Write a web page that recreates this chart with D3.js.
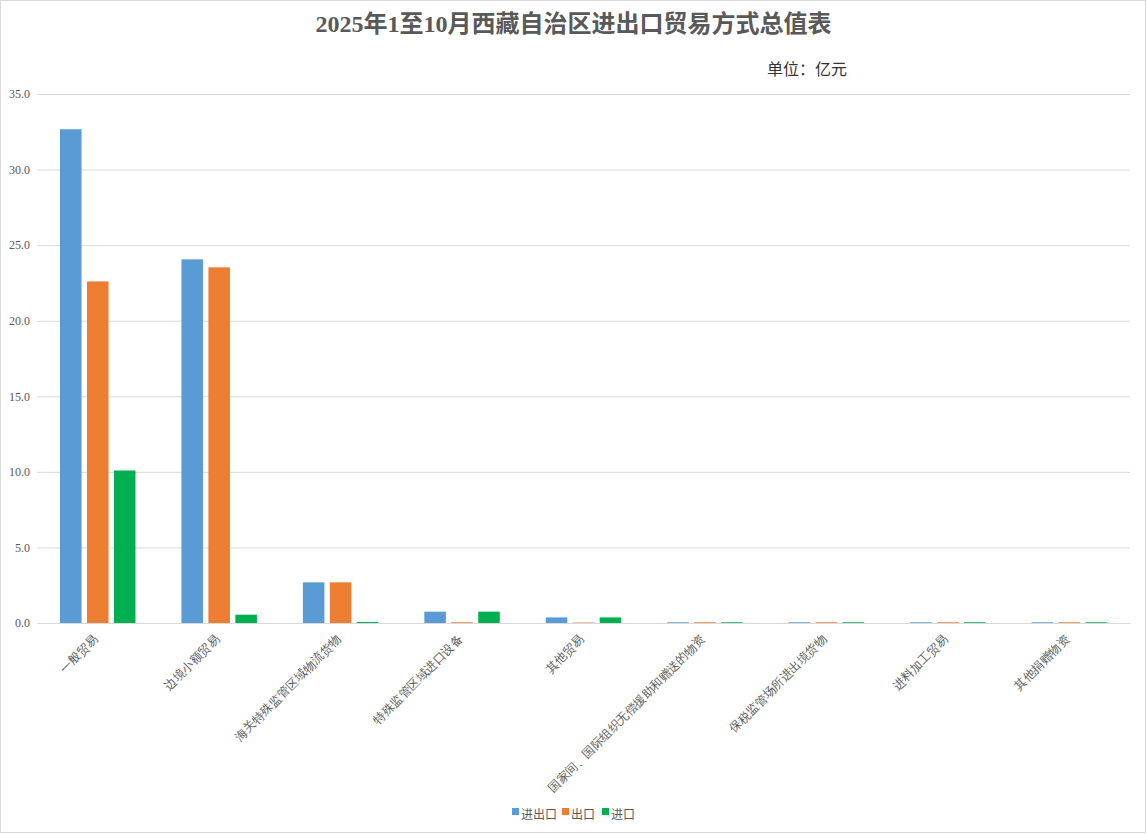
<!DOCTYPE html>
<html lang="zh">

<head>
    <meta charset="UTF-8">
    <script src="https://cdn.jsdelivr.net/npm/d3@7"></script>
    <title>2025年1至10月西藏自治区进出口贸易方式总值表</title>
    <style>
        body {
            margin: 0;
            background: white;
        }
        text {
            font-family: "Noto Sans CJK SC", sans-serif;
        }
        .title {
            font-family: "Liberation Serif", "Noto Sans CJK SC", serif;
            font-weight: bold;
        }
        .tick text {
            font-family: "Liberation Serif", serif;
        }
    </style>
</head>

<body>
    <div id="container"></div>
    <script>

        const categories = ["一般贸易", "边境小额贸易", "海关特殊监管区域物流货物", "特殊监管区域进口设备", "其他贸易",
            "国家间、国际组织无偿援助和赠送的物资", "保税监管场所进出境货物", "进料加工贸易", "其他捐赠物资"];
        const series = ["进出口", "出口", "进口"];
        const totalValues = [32.67, 24.06, 2.69, 0.75, 0.37, 0.05, 0.05, 0.05, 0.05];
        const exportValues = [22.6, 23.53, 2.69, 0.05, 0.03, 0.05, 0.05, 0.05, 0.05];
        const importValues = [10.09, 0.55, 0.07, 0.75, 0.37, 0.05, 0.05, 0.05, 0.05];
        const yTicks = [0, 5, 10, 15, 20, 25, 30, 35];
        const colors = ["#5B9BD5", "#ED7D31", "#00B050"];

        const width = 1147, height = 834;
        const plot = { left: 37, right: 1130, top: 94, bottom: 623 };

        const rows = categories.map((c, i) => ({
            category: c,
            values: [totalValues[i], exportValues[i], importValues[i]]
        }));

        const svg = d3.select("#container").append("svg")
            .attr("width", width)
            .attr("height", height);

        svg.append("rect")
            .attr("x", 0.5).attr("y", 0.5)
            .attr("width", width - 2).attr("height", height - 2)
            .attr("fill", "white")
            .attr("stroke", "#D9D9D9");

        const x0 = d3.scaleBand().domain(categories).range([plot.left, plot.right]);
        const groupWidth = 75.5;
        const x1 = d3.scaleBand().domain(series)
            .range([(x0.bandwidth() - groupWidth) / 2, (x0.bandwidth() + groupWidth) / 2])
            .paddingInner(0.2);
        const y = d3.scaleLinear().domain([0, 35]).range([plot.bottom, plot.top]);

        // gridlines + y labels
        const yAxis = svg.append("g")
            .attr("transform", `translate(${plot.left}, 0)`)
            .call(d3.axisLeft(y).tickValues(yTicks).tickFormat(d3.format(".1f"))
                .tickSize(-(plot.right - plot.left)).tickPadding(7));
        yAxis.select(".domain").remove();
        yAxis.selectAll(".tick line").attr("stroke", "#D9D9D9");
        yAxis.selectAll(".tick text").attr("fill", "#595959").attr("font-size", 12);

        const groups = svg.selectAll(".group")
            .data(rows)
            .enter()
            .append("g")
            .attr("class", "group")
            .attr("transform", d => `translate(${x0(d.category)}, 0)`);

        groups.selectAll("rect")
            .data(d => d.values.map((v, i) => ({ key: series[i], value: v, i: i })))
            .enter()
            .append("rect")
            .attr("x", d => x1(d.key))
            .attr("y", d => y(d.value))
            .attr("width", x1.bandwidth())
            .attr("height", d => y(0) - y(d.value))
            .attr("fill", d => colors[d.i]);

        const xAxis = svg.append("g")
            .attr("transform", `translate(0, ${plot.bottom})`)
            .call(d3.axisBottom(x0).tickSize(0).tickPadding(0));
        xAxis.select(".domain").attr("stroke", "#D9D9D9");
        xAxis.selectAll(".tick text")
            .attr("fill", "#595959")
            .attr("font-size", 12)
            .attr("text-anchor", "end")
            .attr("dy", 0)
            .attr("transform", "translate(1, 17) rotate(-45)");

        svg.append("text")
            .attr("class", "title")
            .attr("x", width / 2)
            .attr("y", 32)
            .attr("text-anchor", "middle")
            .attr("font-size", 24)
            .attr("fill", "#595959")
            .text("2025年1至10月西藏自治区进出口贸易方式总值表");

        svg.append("text")
            .attr("x", 767)
            .attr("y", 75)
            .attr("font-size", 16)
            .attr("fill", "#333333")
            .text("单位：亿元");

        // legend
        const legend = svg.append("g").attr("transform", "translate(512, 815)");
        const legendOffsets = [0, 50, 90];
        const item = legend.selectAll(".item")
            .data(series)
            .enter()
            .append("g")
            .attr("class", "item")
            .attr("transform", (d, i) => `translate(${legendOffsets[i]}, 0)`);
        item.append("rect")
            .attr("x", 0).attr("y", -7)
            .attr("width", 7).attr("height", 7)
            .attr("fill", (d, i) => colors[i]);
        item.append("text")
            .attr("x", 9).attr("y", 4)
            .attr("font-size", 12)
            .attr("fill", "#595959")
            .text(d => d);

    </script>
</body>

</html>
